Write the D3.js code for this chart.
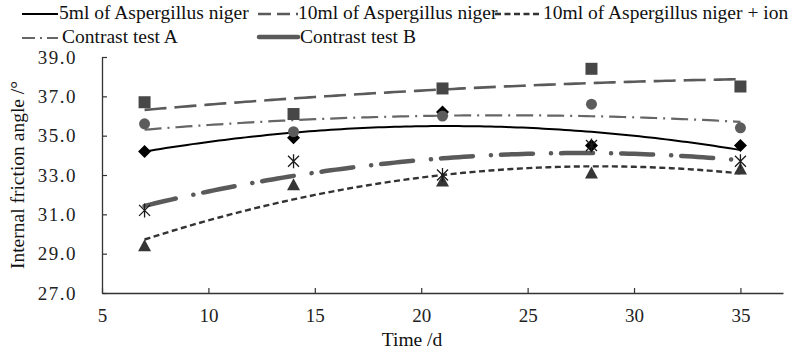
<!DOCTYPE html>
<html>
<head>
<meta charset="utf-8">
<script src="https://cdn.jsdelivr.net/npm/d3@7"></script>
<style>
  html, body { margin: 0; padding: 0; background: #fff; }
  svg { display: block; }
  svg text { font-family: "Liberation Serif", "DejaVu Serif", serif; fill: #111; }
</style>
</head>
<body>
<svg id="chart" width="790" height="350"></svg>
<script>
// Sampling days and measured internal friction angles (degrees)
const days = [7, 14, 21, 28, 35];
const fiveMl = [34.2, 34.9, 36.2, 34.5, 34.5];
const tenMl = [36.7, 36.1, 37.4, 38.4, 37.5];
const tenMlIon = [29.4, 32.5, 32.7, 33.1, 33.3];
const contrastA = [35.6, 35.2, 36.0, 36.6, 35.4];
const contrastB = [31.2, 33.7, 33.0, 34.5, 33.7];

// Axis ticks
const xTicks = [5, 10, 15, 20, 25, 30, 35];
const yTicks = [27, 29, 31, 33, 35, 37, 39];
const yTickLabels = ["27.0", "29.0", "31.0", "33.0", "35.0", "37.0", "39.0"];

const FONT = "'Liberation Serif', 'DejaVu Serif', serif";

const svg = d3.select("#chart");
const x = d3.scaleLinear().domain([5, 37]).range([102, 783]);
const y = d3.scaleLinear().domain([27, 39]).range([293, 57]);

// Second-order polynomial trendline (least squares)
function quadFit(xs, ys) {
  const n = xs.length;
  let s = [0, 0, 0, 0, 0], t = [0, 0, 0];
  for (let i = 0; i < n; i++) {
    const xi = xs[i], yi = ys[i];
    for (let k = 0; k <= 4; k++) s[k] += Math.pow(xi, k);
    for (let k = 0; k <= 2; k++) t[k] += yi * Math.pow(xi, k);
  }
  const A = [[s[0], s[1], s[2], t[0]], [s[1], s[2], s[3], t[1]], [s[2], s[3], s[4], t[2]]];
  for (let c = 0; c < 3; c++) {
    let p = c;
    for (let r = c + 1; r < 3; r++) if (Math.abs(A[r][c]) > Math.abs(A[p][c])) p = r;
    [A[c], A[p]] = [A[p], A[c]];
    for (let r = 0; r < 3; r++) {
      if (r === c) continue;
      const f = A[r][c] / A[c][c];
      for (let k = c; k < 4; k++) A[r][k] -= f * A[c][k];
    }
  }
  const a0 = A[0][3] / A[0][0], a1 = A[1][3] / A[1][1], a2 = A[2][3] / A[2][2];
  return v => a0 + a1 * v + a2 * v * v;
}

// Marker shapes
const markers = {
  diamond: "M0,-6.5L6.5,0L0,6.5L-6.5,0Z",
  square: "M-6,-6H6V6H-6Z",
  triangle: "M0,-6.5L6.5,5.5L-6.5,5.5Z",
  circle: d3.symbol(d3.symbolCircle, 95)(),
  star: "M-5.5,-5.5L5.5,5.5M-5.5,5.5L5.5,-5.5M0,-7L0,7"
};

const series = [
  { name: "5ml of Aspergillus niger", values: fiveMl, stroke: "#000", width: 2, dash: null,
    legendDash: null, marker: "diamond", fill: "#000" },
  { name: "10ml of Aspergillus niger", values: tenMl, stroke: "#5a5a5a", width: 2.6, dash: "22,8",
    legendDash: "13,6", marker: "square", fill: "#474747" },
  { name: "10ml of Aspergillus niger + ion", values: tenMlIon, stroke: "#333", width: 2.4, dash: "6,3.5",
    legendDash: "6,3.5", marker: "triangle", fill: "#363636" },
  { name: "Contrast test A", values: contrastA, stroke: "#666", width: 2.2, dash: "17,6,2,6",
    legendDash: "13,5,2,5", marker: "circle", fill: "#5c5c5c" },
  { name: "Contrast test B", values: contrastB, stroke: "#5a5a5a", width: 4.5, dash: "32,18,0.1,10",
    legendDash: null, cap: "round", marker: "star", fill: "none", markerStroke: "#1a1a1a" }
];

// Axes with inward ticks
const xAxis = d3.axisBottom(x).tickValues(xTicks).tickSizeInner(-5).tickSizeOuter(0).tickPadding(16);
const yAxis = d3.axisLeft(y).tickValues(yTicks).tickFormat((d, i) => yTickLabels[i])
  .tickSizeInner(-5).tickSizeOuter(0).tickPadding(25);

const gx = svg.append("g").attr("transform", "translate(0,293)").call(xAxis);
const gy = svg.append("g").attr("transform", "translate(102,0)").call(yAxis);
[gx, gy].forEach(g => {
  g.attr("font-family", null);
  g.select(".domain").attr("stroke", "#333").attr("stroke-width", 1.3);
  g.selectAll(".tick line").attr("stroke", "#333").attr("stroke-width", 1.2);
  g.selectAll(".tick text").style("font-family", FONT)
    .attr("font-size", 19).style("fill", "#222");
});
gy.selectAll(".tick text").attr("letter-spacing", 1.5);

// Trendlines
const grid = d3.range(7, 35.001, 0.25);
series.forEach(s => {
  const f = quadFit(days, s.values);
  svg.append("path")
    .attr("d", d3.line().x(d => x(d)).y(d => y(f(d)))(grid))
    .attr("fill", "none")
    .attr("stroke", s.stroke)
    .attr("stroke-width", s.width)
    .attr("stroke-linecap", s.cap || "butt")
    .attr("stroke-dasharray", s.dash);
});

// Data markers
series.forEach(s => {
  svg.append("g").selectAll("path")
    .data(days.map((d, i) => [d, s.values[i]]))
    .join("path")
    .attr("transform", d => `translate(${x(d[0])},${y(d[1])})`)
    .attr("d", markers[s.marker])
    .attr("fill", s.fill)
    .attr("stroke", s.markerStroke || "none")
    .attr("stroke-width", 1.3);
});

// Legend
const legendPos = [
  { x0: 22, x1: 58, ly: 14, tx: 59, ty: 19 },
  { x0: 258, x1: 298, ly: 14, tx: 298, ty: 19 },
  { x0: 495, x1: 542, ly: 14, tx: 543, ty: 19 },
  { x0: 22, x1: 58, ly: 38, tx: 62, ty: 43 },
  { x0: 259, x1: 298, ly: 37, tx: 300, ty: 43 }
];
series.forEach((s, i) => {
  const p = legendPos[i];
  svg.append("line")
    .attr("x1", p.x0).attr("x2", p.x1).attr("y1", p.ly).attr("y2", p.ly)
    .attr("stroke", s.stroke)
    .attr("stroke-width", s.width)
    .attr("stroke-linecap", s.cap || "butt")
    .attr("stroke-dasharray", s.legendDash);
  svg.append("text")
    .attr("x", p.tx).attr("y", p.ty)
    .style("font-family", FONT)
    .attr("font-size", 19.5)
    .text(s.name);
});

// Axis titles
svg.append("text")
  .attr("x", 412).attr("y", 346)
  .attr("text-anchor", "middle")
  .style("font-family", FONT)
  .attr("font-size", 19.5)
  .text("Time /d");

svg.append("text")
  .attr("transform", "translate(24,175) rotate(-90)")
  .attr("text-anchor", "middle")
  .style("font-family", FONT)
  .attr("font-size", 19.5)
  .text("Internal friction angle /°");
</script>
</body>
</html>
